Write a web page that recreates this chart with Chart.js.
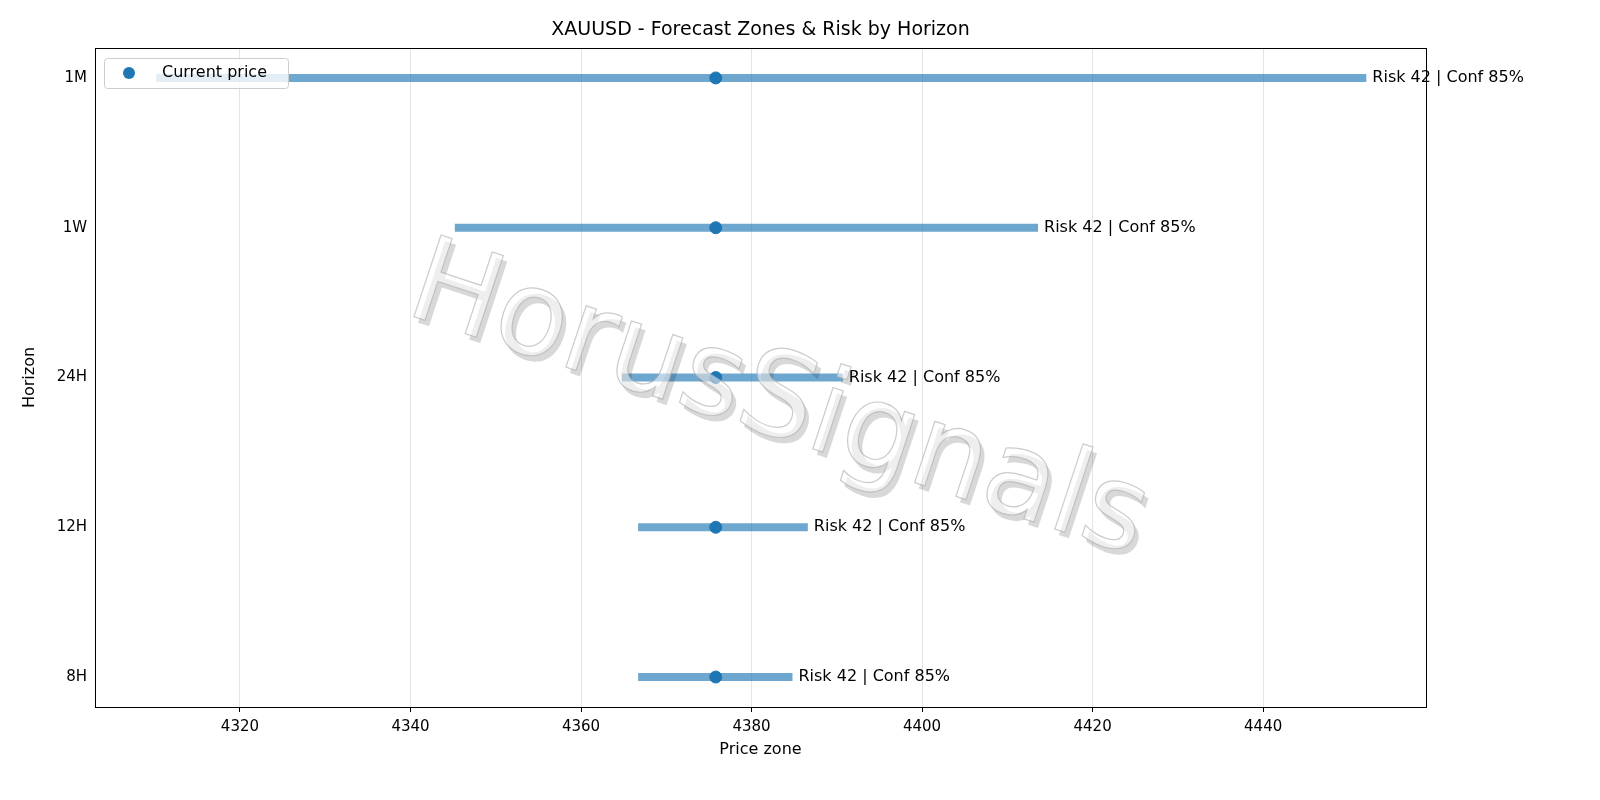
<!DOCTYPE html>
<html>
<head>
<meta charset="utf-8">
<script src="https://cdn.jsdelivr.net/npm/chart.js@4"></script>
<style>
  html, body { margin: 0; background: #fff; overflow: hidden; }
</style>
</head>
<body>
<canvas id="chart" width="1600" height="800"></canvas>
<script>
// Horizons, bottom to top
const horizons = ['8H', '12H', '24H', '1W', '1M'];
const zoneLow = [4366.7, 4366.7, 4364.8, 4345.2, 4310.2];
const zoneHigh = [4384.8, 4386.6, 4390.7, 4413.6, 4452.1];
const currentPrice = 4375.8;
const zoneLabels = ['Risk 42 | Conf 85%', 'Risk 42 | Conf 85%', 'Risk 42 | Conf 85%', 'Risk 42 | Conf 85%', 'Risk 42 | Conf 85%'];
const xTicks = [4320, 4340, 4360, 4380, 4400, 4420, 4440];

const blue = '#1f77b4';
const zoneColor = 'rgba(31,119,180,0.65)';
const font = 'DejaVu Sans';

// One line dataset per zone
const datasets = horizons.map((h, i) => ({
    label: h,
    data: [{ x: zoneLow[i], y: i }, { x: zoneHigh[i], y: i }],
    showLine: true,
    borderColor: zoneColor,
    borderWidth: 8,
    borderCapStyle: 'butt',
    pointRadius: 0,
    pointHoverRadius: 0
}));
datasets.push({
    label: 'Current price',
    data: horizons.map((h, i) => ({ x: currentPrice, y: i })),
    showLine: false,
    backgroundColor: blue,
    borderColor: blue,
    pointRadius: 6
});

// Title, labels, watermark, legend, frame
const extras = {
    id: 'extras',
    afterDatasetsDraw(chart) {
        const ctx = chart.ctx;
        const xs = chart.scales.x, ys = chart.scales.y, area = chart.chartArea;
        ctx.save();
        ctx.fillStyle = '#000';
        ctx.font = '16px ' + font;
        ctx.textBaseline = 'middle';
        horizons.forEach((h, i) => {
            ctx.fillText(zoneLabels[i], xs.getPixelForValue(zoneHigh[i]) + 6, ys.getPixelForValue(i));
        });

        // watermark
        ctx.save();
        ctx.translate(778, 405);
        ctx.rotate(0.32);
        ctx.font = '118px ' + font;
        ctx.textAlign = 'center';
        ctx.shadowColor = 'rgba(0,0,0,0.28)';
        ctx.shadowOffsetX = 4;
        ctx.shadowOffsetY = 6;
        ctx.fillStyle = 'rgba(255,255,255,0.55)';
        ctx.fillText('HorusSignals', 0, 0);
        ctx.shadowColor = 'transparent';
        ctx.strokeStyle = 'rgba(170,170,170,0.6)';
        ctx.lineWidth = 1.2;
        ctx.strokeText('HorusSignals', 0, 0);
        ctx.restore();

        // frame
        ctx.strokeStyle = '#000';
        ctx.lineWidth = 1;
        ctx.strokeRect(area.left + 0.5, area.top + 0.5, area.right - area.left, area.bottom - area.top);

        // legend
        ctx.fillStyle = 'rgba(255,255,255,0.8)';
        ctx.strokeStyle = '#ccc';
        ctx.beginPath();
        ctx.roundRect(104.5, 58.5, 184, 30, 3);
        ctx.fill();
        ctx.stroke();
        ctx.fillStyle = blue;
        ctx.beginPath();
        ctx.arc(129, 73, 6, 0, Math.PI * 2);
        ctx.fill();
        ctx.fillStyle = '#000';
        ctx.textAlign = 'left';
        ctx.fillText('Current price', 162, 73);

        // title and axis titles
        ctx.textAlign = 'center';
        ctx.font = '19px ' + font;
        ctx.fillText('XAUUSD - Forecast Zones & Risk by Horizon', (area.left + area.right) / 2, 30);
        ctx.font = '16px ' + font;
        ctx.fillText('Price zone', (area.left + area.right) / 2, 750);
        ctx.translate(30, (area.top + area.bottom) / 2);
        ctx.rotate(-Math.PI / 2);
        ctx.fillText('Horizon', 0, 0);
        ctx.restore();
    }
};

new Chart(document.getElementById('chart'), {
    type: 'scatter',
    data: { datasets: datasets },
    options: {
        responsive: false,
        animation: false,
        devicePixelRatio: 1,
        layout: { padding: { top: 48, right: 174, left: 0, bottom: 0 } },
        plugins: { legend: { display: false }, tooltip: { enabled: false } },
        scales: {
            x: {
                min: 4303, max: 4459.1,
                afterBuildTicks: s => { s.ticks = xTicks.map(v => ({ value: v })); },
                afterFit: s => { s.height = 93; },
                grid: { color: 'rgba(0,0,0,0.1)', drawTicks: true, tickLength: 5, tickColor: '#000' },
                border: { color: '#000' },
                ticks: { color: '#000', font: { family: font, size: 15 }, padding: 6, callback: v => String(v) }
            },
            y: {
                min: -0.2, max: 4.2,
                afterBuildTicks: s => { s.ticks = horizons.map((h, i) => ({ value: i })); },
                afterFit: s => { s.width = 95; },
                grid: { display: false, drawTicks: true, tickLength: 5 },
                border: { color: '#000' },
                ticks: { color: '#000', font: { family: font, size: 15 }, callback: v => horizons[v] }
            }
        }
    },
    plugins: [extras]
});
</script>
</body>
</html>
